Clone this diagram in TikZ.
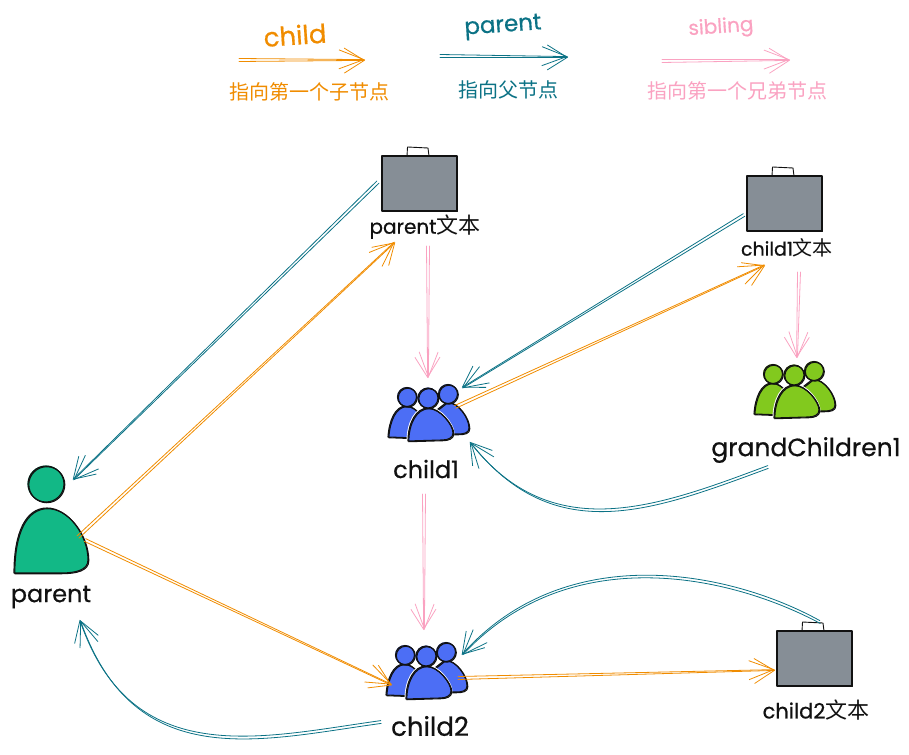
\documentclass[tikz,border=0pt]{standalone}
\usepackage{fontspec}
\setmainfont{Poppins}[FakeBold=0.6]
\newfontfamily\cjkf{Noto Sans CJK SC}
\usetikzlibrary{arrows.meta,calc}
\definecolor{orangec}{HTML}{F08C00}
\definecolor{tealc}{HTML}{0B7285}
\definecolor{pinkc}{HTML}{FAA2C1}
\definecolor{bluec}{HTML}{4C6EF5}
\definecolor{greenc}{HTML}{12B886}
\definecolor{limec}{HTML}{82C91E}
\definecolor{grayc}{HTML}{868E96}
\definecolor{inkc}{HTML}{111111}
\newcommand{\fs}[1]{\fontsize{#1}{#1}\selectfont}
% two slightly offset strands make the hand-drawn double line
\newcommand{\skarrow}[3]{%
  \coordinate (sa) at ($#2$); \coordinate (sb) at ($#3$);
  \draw[strand,#1] ($(sa)!1.5pt!90:(sb)$) -- ($(sb)!.4pt!-90:(sa)$);
  \draw[strand2,#1] ($(sa)!1.5pt!-90:(sb)$) -- ($(sb)!.4pt!90:(sa)$);
}
\newcommand{\skcurve}[5]{%
  \coordinate (sa) at ($#2$); \coordinate (sb) at ($#3$);
  \draw[strand,#1] ($(sa)+(.2,1.4)$) .. controls #4 and #5 .. ($(sb)+(.3,.2)$);
  \draw[strand2,#1] ($(sa)+(-.2,-1.4)$) .. controls ($#4+(2,-3)$) and ($#5+(-3,-3)$) .. ($(sb)+(-.3,-.2)$);
}
\newcommand{\skline}[1]{%
  \draw[inkline] #1;
  \draw[inkline,shift={(.8,.7)}] #1;
}
\tikzset{
  x=1pt,y=-1pt,
  strand/.style={line width=.8pt,line cap=round,-{Straight Barb[length=25pt,width=19pt,line width=.8pt]}},
  strand2/.style={line width=.8pt,line cap=round,-{Straight Barb[length=20pt,width=25pt,line width=.8pt]}},
  inkline/.style={draw=inkc,line width=1.1pt,line join=round,line cap=round},
  anchorbox/.style={inner sep=0pt,minimum size=1pt},
  hand/.style={inner sep=0pt,text=inkc},
  legendcn/.style={inner sep=0pt,font=\cjkf\fs{20}},
  person/.pic={
    \fill[#1] (-5,-56) circle (18.5);
    \skline{(-5,-56) circle (18)}
    \def\bodyP{(-37,33) .. controls (-37,-8) and (-25,-32) .. (-4,-32) .. controls (17,-32) and (37,-5) .. (37,20) .. controls (37,30) and (25,33) .. (10,33) -- cycle}
    \fill[#1] \bodyP;
    \skline{\bodyP}
  },
  crowd/.pic={
    \def\bodyL{(-40,24) .. controls (-39,8) and (-33,-7) .. (-22,-7) .. controls (-12,-7) and (-2,6) .. (-2,20) -- (-12,25) -- cycle}
    \def\bodyR{(19,-11) .. controls (30,-11) and (41,5) .. (41,15) .. controls (41,20) and (36,21) .. (30,21) -- (5,21) -- (5,0) -- cycle}
    \def\bodyC{(-20,28) .. controls (-20,10) and (-12,-5) .. (0,-5) .. controls (12,-5) and (25,12) .. (25,20) .. controls (25,25) and (20,27) .. (14,27) -- cycle}
    \fill[#1] \bodyL; \skline{\bodyL}
    \fill[#1] \bodyR; \skline{\bodyR}
    \fill[#1] (-21,-16) circle (10); \skline{(-21,-16) circle (9.5)}
    \fill[#1] (20,-19) circle (10); \skline{(20,-19) circle (9.5)}
    \draw[white,line width=3pt] \bodyC;
    \fill[#1] \bodyC; \skline{\bodyC}
    \fill[#1] (0,-15) circle (10.5); \skline{(0,-15) circle (10)}
  },
  case/.pic={
    \fill[grayc] (-38,-28) rectangle (37,27);
    \skline{(-38,-28) -- (37,-28) -- (37,27) -- (-38,27) -- cycle}
    \draw[draw=inkc,line width=.9pt,line join=round] (-13,-28) -- (-12.5,-37) -- (8,-36) -- (9,-28);
  },
}
\begin{document}
\begin{tikzpicture}
\useasboundingbox (0,0) rectangle (909,754);

% anchor points of the icons
\node[anchorbox] (parentN) at (51,540) {};
\node[anchorbox] (caseP) at (420,184) {};
\node[anchorbox] (caseA) at (785,204) {};
\node[anchorbox] (caseB) at (815,659) {};
\node[anchorbox] (groupA) at (428,413) {};
\node[anchorbox] (groupB) at (426,671) {};
\node[anchorbox] (groupG) at (794,390) {};

% icons
\pic at (parentN) {person=greenc};
\pic at (caseP) {case};
\pic at (caseA) {case};
\pic at (caseB) {case};
\pic at (groupA) {crowd=bluec};
\pic at (groupB) {crowd=bluec};
\pic at (groupG) {crowd=limec};

% labels
\node[hand,font=\fs{24}] (lblParent) at (51,597) {parent};
\node[hand,font=\fs{20}] (lblCaseP) at (425,227) {parent{\cjkf\fs{22}文本}};
\node[hand,font=\fs{19}] (lblCaseA) at (787,248) {child1{\cjkf\fs{20}文本}};
\node[hand,font=\fs{21}] (lblCaseB) at (816,710) {child2{\cjkf\fs{22}文本}};
\node[hand,font=\fs{24}] (lblA) at (426,469) {child1};
\node[hand,font=\fs{26}] (lblB) at (430,726) {child2};
\node[hand,font=\fs{25}] (lblG) at (806,450) {grandChildren1};

% legend
\node[inner sep=0pt,text=orangec,font=\fs{26},rotate=4] (legChild) at (295,35) {child};
\node[inner sep=0pt,text=tealc,font=\fs{23},rotate=4] (legParent) at (503,27) {parent};
\node[inner sep=0pt,text=pinkc,font=\fs{20},rotate=4] (legSib) at (721,28) {sibling};
\node[legendcn,text=orangec] (cnChild) at (309,92) {指向第一个子节点};
\node[legendcn,text=tealc] (cnParent) at (508,90) {指向父节点};
\node[legendcn,text=pinkc] (cnSib) at (737,91) {指向第一个兄弟节点};
\coordinate (a1) at (239,60); \coordinate (a2) at (365,60);
\coordinate (b1) at (440,56); \coordinate (b2) at (568,57);
\coordinate (c1) at (662,61); \coordinate (c2) at (790,60);
\skarrow{orangec}{(a1)}{(a2)}
\skarrow{tealc}{(b1)}{(b2)}
\skarrow{pinkc}{(c1)}{(c2)}

% connectors
\skarrow{tealc}{(caseP)+(-42,-2)}{(parentN)+(22,-60)}
\skarrow{orangec}{(parentN)+(27,-3)}{(caseP)+(-25,58)}
\skarrow{pinkc}{(caseP)+(8,62)}{(groupA)+(0,-35)}
\skarrow{orangec}{(groupA)+(27,-6)}{(caseA)+(-20,61)}
\skarrow{tealc}{(caseA)+(-41,11)}{(groupA)+(34,-25)}
\skarrow{pinkc}{(caseA)+(14,68)}{(groupG)+(3,-32)}
\skcurve{tealc}{(groupG)+(-26,77)}{(groupA)+(42,29)}{(655,510)}{(555,550)}
\skarrow{pinkc}{(groupA)+(-4,81)}{(groupB)+(-2,-41)}
\skarrow{orangec}{(parentN)+(34,0)}{(groupB)+(-34,14)}
\skarrow{orangec}{(groupB)+(32,7)}{(caseB)+(-40,11)}
\skcurve{tealc}{(caseB)+(5,-37)}{(groupB)+(36,-16)}{(730,575)}{(570,540)}
\skcurve{tealc}{(groupB)+(-45,51)}{(parentN)+(29,80)}{(260,740)}{(135,775)}
\end{tikzpicture}
\end{document}
